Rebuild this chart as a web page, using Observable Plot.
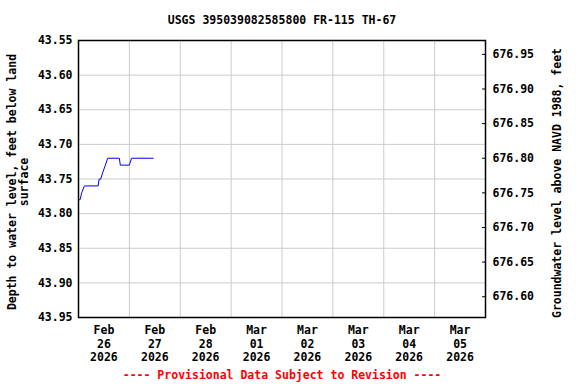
<!DOCTYPE html>
<html>
<head>
<meta charset="utf-8">
<script src="https://cdn.jsdelivr.net/npm/d3@7"></script>
<script src="https://cdn.jsdelivr.net/npm/@observablehq/plot@0.6"></script>
<style>
  html, body { margin: 0; padding: 0; background: #fff; }
</style>
</head>
<body>
<div id="chart"></div>
<script>
const title = "USGS 395039082585800 FR-115 TH-67";
const footer = "---- Provisional Data Subject to Revision ----";
const leftLabel = "Depth to water level, feet below land\nsurface";
const rightLabel = "Groundwater level above NAVD 1988, feet";

const times = [
  "2026-02-26T00:15Z", "2026-02-26T00:45Z", "2026-02-26T01:30Z", "2026-02-26T02:45Z",
  "2026-02-26T09:15Z", "2026-02-26T09:45Z", "2026-02-26T10:30Z", "2026-02-26T11:30Z",
  "2026-02-26T12:40Z", "2026-02-26T13:45Z", "2026-02-26T19:15Z", "2026-02-26T19:45Z",
  "2026-02-27T00:00Z", "2026-02-27T01:00Z", "2026-02-27T11:15Z"
];
const depths = [
  43.78, 43.78, 43.77, 43.76,
  43.76, 43.75, 43.75, 43.74,
  43.73, 43.72, 43.72, 43.73,
  43.73, 43.72, 43.72
];

const dayLabels = ["Feb\n26\n2026", "Feb\n27\n2026", "Feb\n28\n2026", "Mar\n01\n2026",
                   "Mar\n02\n2026", "Mar\n03\n2026", "Mar\n04\n2026", "Mar\n05\n2026"];
const dayNoons = ["2026-02-26T12:00Z", "2026-02-27T12:00Z", "2026-02-28T12:00Z", "2026-03-01T12:00Z",
                  "2026-03-02T12:00Z", "2026-03-03T12:00Z", "2026-03-04T12:00Z", "2026-03-05T12:00Z"];
const midnights = ["2026-02-27T00:00Z", "2026-02-28T00:00Z", "2026-03-01T00:00Z", "2026-03-02T00:00Z",
                   "2026-03-03T00:00Z", "2026-03-04T00:00Z", "2026-03-05T00:00Z"];
const xDomain = ["2026-02-26T00:00Z", "2026-03-06T00:00Z"];

const leftTicks = [43.55, 43.60, 43.65, 43.70, 43.75, 43.80, 43.85, 43.90, 43.95];
const rightTicks = [676.60, 676.65, 676.70, 676.75, 676.80, 676.85, 676.90, 676.95];
const datumOffset = 720.52; // elevation = offset - depth

const data = times.map((t, i) => ({ t: new Date(t), d: depths[i] }));
const noonDates = dayNoons.map(s => new Date(s));
const labelByTime = new Map(noonDates.map((d, i) => [+d, dayLabels[i]]));

const chart = Plot.plot({
  width: 576,
  height: 384,
  marginLeft: 78,
  marginRight: 91,
  marginTop: 40,
  marginBottom: 67,
  style: { fontFamily: "DejaVu Sans Mono", fontWeight: "bold", fontSize: "11.5px", background: "#fff", color: "#000" },
  x: { type: "utc", domain: xDomain.map(s => new Date(s)) },
  y: { domain: [43.55, 43.95], reverse: true },
  marks: [
    Plot.gridY(leftTicks, { stroke: "#cccccc", strokeOpacity: 1 }),
    Plot.gridX(midnights.map(s => new Date(s)), { stroke: "#cccccc", strokeOpacity: 1 }),
    Plot.axisY(leftTicks, { anchor: "left", tickSize: 0, tickPadding: 6, tickFormat: d => d.toFixed(2), label: null }),
    Plot.axisY(rightTicks.map(v => datumOffset - v), { anchor: "right", tickSize: -4, tickPadding: 11, tickFormat: d => (datumOffset - d).toFixed(2), label: null }),
    Plot.axisX(noonDates, { anchor: "bottom", tickSize: 0, tickPadding: 7, lineHeight: 1.17, tickFormat: d => labelByTime.get(+d), label: null }),
    Plot.line(data, { x: "t", y: "d", stroke: "#0000ff", strokeWidth: 1 }),
    Plot.frame({ stroke: "#000", strokeWidth: 1.5 }),
    Plot.text([title], { frameAnchor: "top", dy: -20, lineAnchor: "middle", textAnchor: "middle", fontSize: 11.5, fontWeight: "bold" }),
    Plot.text([footer], { frameAnchor: "bottom", dy: 58, lineAnchor: "middle", textAnchor: "middle", fill: "#ff0000", fontSize: 11.5, fontWeight: "bold" }),
    Plot.text([leftLabel], { frameAnchor: "left", dx: -60, dy: 3, rotate: -90, textAnchor: "middle", lineAnchor: "middle", lineHeight: 1.05, fontSize: 11.5, fontWeight: "bold" }),
    Plot.text([rightLabel], { frameAnchor: "right", dx: 72, dy: 4, rotate: -90, textAnchor: "middle", lineAnchor: "middle", fontSize: 11.5, fontWeight: "bold" })
  ]
});
document.getElementById("chart").appendChild(chart);
</script>
</body>
</html>
